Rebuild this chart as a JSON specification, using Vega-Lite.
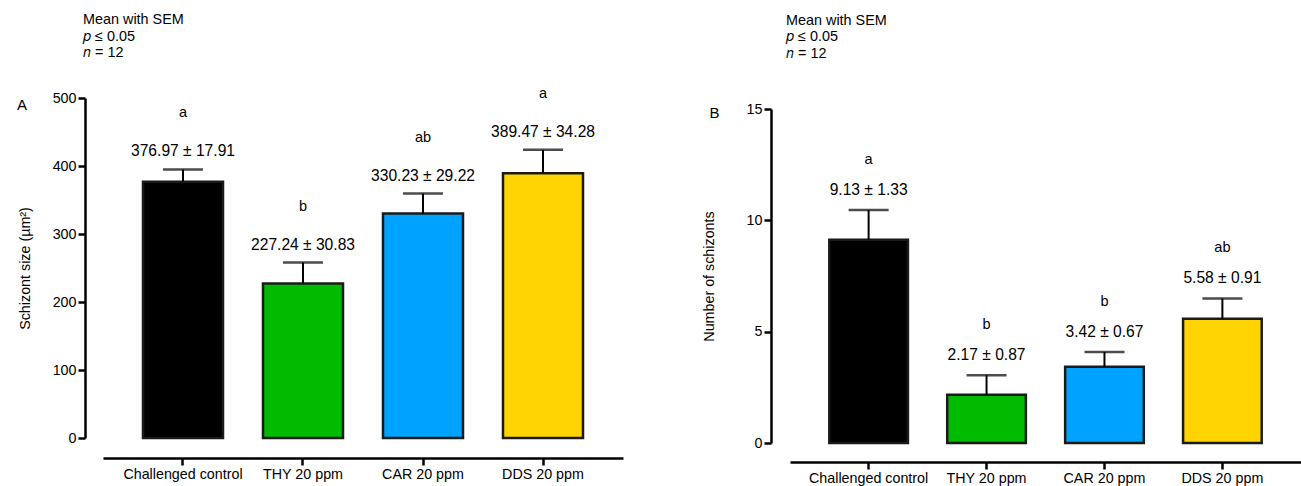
{
  "$schema": "https://vega.github.io/schema/vega-lite/v6.json",
  "background": "white",
  "padding": {"left": 16, "top": 12, "right": 0, "bottom": 0},
  "config": {
    "font": "Liberation Sans",
    "view": {"stroke": null},
    "concat": {"spacing": 79},
    "axis": {
      "grid": false,
      "domainColor": "black",
      "domainWidth": 2.5,
      "tickColor": "black",
      "tickWidth": 2.5,
      "tickSize": 7,
      "labelPadding": 2,
      "labelColor": "black",
      "labelFontSize": 14.3,
      "labelFont": "Liberation Sans",
      "titleFont": "Liberation Sans",
      "titleFontSize": 14.3,
      "titleFontWeight": "normal",
      "titleColor": "black"
    },
    "title": {
      "anchor": "start",
      "frame": "group",
      "fontSize": 14.4,
      "fontWeight": "normal",
      "font": "Liberation Sans",
      "color": "black",
      "lineHeight": 16.5
    }
  },
  "hconcat": [
    {
      "width": 520,
      "height": 340,
      "title": {"text": ["Mean with SEM", "𝑝 ≤ 0.05", "𝑛 = 12"], "dx": -20, "offset": 25},
      "data": {
        "values": [
          {"group": "Challenged control", "mean": 376.97, "upper": 394.88, "label": "376.97 ± 17.91", "letter": "a"},
          {"group": "THY 20 ppm", "mean": 227.24, "upper": 258.07, "label": "227.24 ± 30.83", "letter": "b"},
          {"group": "CAR 20 ppm", "mean": 330.23, "upper": 359.45, "label": "330.23 ± 29.22", "letter": "ab"},
          {"group": "DDS 20 ppm", "mean": 389.47, "upper": 423.75, "label": "389.47 ± 34.28", "letter": "a"}
        ]
      },
      "encoding": {
        "x": {
          "field": "group", "type": "nominal", "sort": null,
          "scale": {"paddingInner": 0.3333, "paddingOuter": 0.3333},
          "axis": {"title": null, "labelAngle": 0, "offset": 20}
        }
      },
      "layer": [
        {
          "mark": {"type": "bar", "stroke": "#1a1a1a", "strokeWidth": 2.5},
          "encoding": {
            "y": {
              "field": "mean", "type": "quantitative",
              "scale": {"domain": [0, 500], "nice": false},
              "axis": {"values": [0, 100, 200, 300, 400, 500], "offset": 18, "title": "Schizont size (µm²)", "titlePadding": 20}
            },
            "color": {
              "field": "group", "type": "nominal", "sort": null,
              "scale": {"domain": ["Challenged control", "THY 20 ppm", "CAR 20 ppm", "DDS 20 ppm"], "range": ["#000000", "#00BB00", "#00A2FF", "#FFD400"]},
              "legend": null
            }
          }
        },
        {
          "mark": {"type": "rule", "color": "black", "strokeWidth": 2},
          "encoding": {"y": {"field": "mean", "type": "quantitative"}, "y2": {"field": "upper"}}
        },
        {
          "mark": {"type": "tick", "color": "black", "thickness": 2.5, "size": 40},
          "encoding": {"y": {"field": "upper", "type": "quantitative"}}
        },
        {
          "mark": {"type": "text", "fontSize": 15.6, "dy": -18, "baseline": "middle", "color": "black"},
          "encoding": {"y": {"field": "upper", "type": "quantitative"}, "text": {"field": "label"}}
        },
        {
          "mark": {"type": "text", "fontSize": 14.5, "dy": -56, "baseline": "middle", "color": "black"},
          "encoding": {"y": {"field": "upper", "type": "quantitative"}, "text": {"field": "letter"}}
        },
        {
          "data": {"values": [{"group": "Challenged control", "top": 500, "panel": "A"}]},
          "mark": {"type": "text", "fontSize": 15, "fontWeight": "normal", "align": "left", "baseline": "middle", "dx": -166, "dy": 7, "color": "black"},
          "encoding": {
            "y": {"field": "top", "type": "quantitative"},
            "text": {"field": "panel"}
          }
        }
      ]
    },
    {
      "width": 511,
      "height": 345,
      "title": {"text": ["Mean with SEM", "𝑝 ≤ 0.05", "𝑛 = 12"], "dx": -4, "offset": 37},
      "data": {
        "values": [
          {"group": "Challenged control", "mean": 9.13, "upper": 10.46, "label": "9.13 ± 1.33", "letter": "a"},
          {"group": "THY 20 ppm", "mean": 2.17, "upper": 3.04, "label": "2.17 ± 0.87", "letter": "b"},
          {"group": "CAR 20 ppm", "mean": 3.42, "upper": 4.09, "label": "3.42 ± 0.67", "letter": "b"},
          {"group": "DDS 20 ppm", "mean": 5.58, "upper": 6.49, "label": "5.58 ± 0.91", "letter": "ab"}
        ]
      },
      "encoding": {
        "x": {
          "field": "group", "type": "nominal", "sort": null,
          "scale": {"paddingInner": 0.3333, "paddingOuter": 0.3333},
          "axis": {"title": null, "labelAngle": 0, "offset": 19}
        }
      },
      "layer": [
        {
          "mark": {"type": "bar", "stroke": "#1a1a1a", "strokeWidth": 2.5},
          "encoding": {
            "y": {
              "field": "mean", "type": "quantitative",
              "scale": {"domain": [0, 15], "nice": false, "range": [345, 11]},
              "axis": {"values": [0, 5, 10, 15], "offset": 19, "title": "Number of schizonts", "titlePadding": 30}
            },
            "color": {
              "field": "group", "type": "nominal", "sort": null,
              "scale": {"domain": ["Challenged control", "THY 20 ppm", "CAR 20 ppm", "DDS 20 ppm"], "range": ["#000000", "#00BB00", "#00A2FF", "#FFD400"]},
              "legend": null
            }
          }
        },
        {
          "mark": {"type": "rule", "color": "black", "strokeWidth": 2},
          "encoding": {"y": {"field": "mean", "type": "quantitative"}, "y2": {"field": "upper"}}
        },
        {
          "mark": {"type": "tick", "color": "black", "thickness": 2.5, "size": 40},
          "encoding": {"y": {"field": "upper", "type": "quantitative"}}
        },
        {
          "mark": {"type": "text", "fontSize": 15.6, "dy": -20, "baseline": "middle", "color": "black"},
          "encoding": {"y": {"field": "upper", "type": "quantitative"}, "text": {"field": "label"}}
        },
        {
          "mark": {"type": "text", "fontSize": 14.5, "dy": -50, "baseline": "middle", "color": "black"},
          "encoding": {"y": {"field": "upper", "type": "quantitative"}, "text": {"field": "letter"}}
        },
        {
          "data": {"values": [{"group": "Challenged control", "top": 15, "panel": "B"}]},
          "mark": {"type": "text", "fontSize": 15, "fontWeight": "normal", "align": "left", "baseline": "middle", "dx": -159, "dy": 4, "color": "black"},
          "encoding": {
            "y": {"field": "top", "type": "quantitative"},
            "text": {"field": "panel"}
          }
        }
      ]
    }
  ]
}
